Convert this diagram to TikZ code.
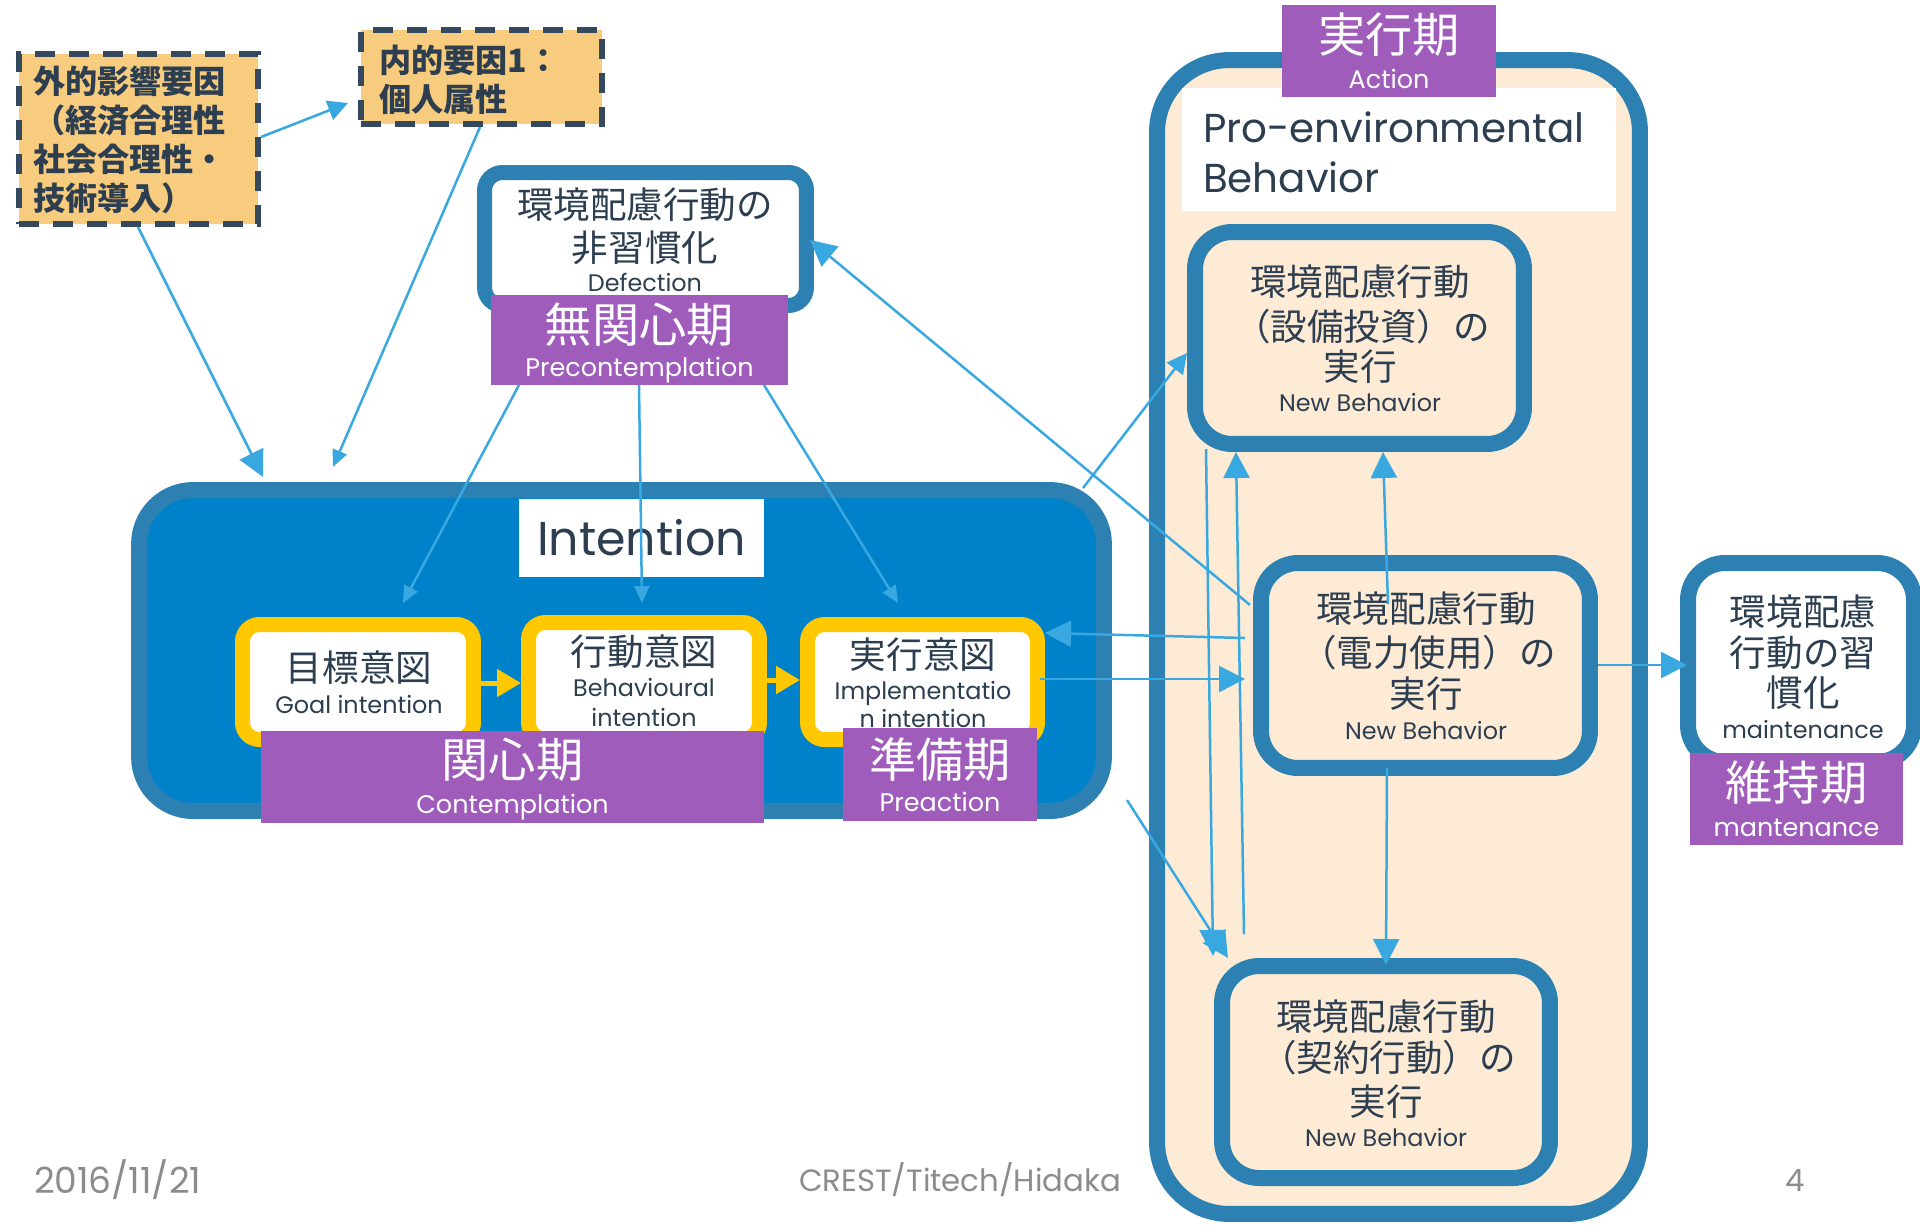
\documentclass[tikz,border=0pt]{standalone}
\usepackage{fontspec}
\setmainfont{Poppins}
\newfontfamily\jpfont{Noto Sans CJK JP}
\usetikzlibrary{arrows.meta}
\definecolor{sblue}{RGB}{44,128,178}
\definecolor{bblue}{RGB}{0,130,202}
\definecolor{peach}{RGB}{253,235,213}
\definecolor{purp}{RGB}{160,92,187}
\definecolor{yel}{RGB}{255,200,0}
\definecolor{lorange}{RGB}{248,204,126}
\definecolor{dslate}{RGB}{52,73,94}
\definecolor{txt}{RGB}{44,62,80}
\definecolor{ablue}{RGB}{58,168,224}
\definecolor{fgray}{RGB}{140,140,140}
\begin{document}
\begin{tikzpicture}[x=0.02cm,y=-0.02cm,
  every node/.style={inner sep=0,outer sep=0},
  dbox/.style={draw=dslate,fill=lorange,line width=0.12cm,dash pattern=on 0.4cm off 0.28cm},
  rbox/.style={draw=sblue,line width=0.32cm},
  ybox/.style={draw=yel,fill=white,line width=0.3cm,rounded corners=0.34cm,minimum width=4.62cm,minimum height=2.3cm},
  pbox/.style={fill=purp},
  jp/.style={font=\jpfont\fontsize{20.8}{24}\selectfont,text=txt,text height=17.3pt,text depth=1.5pt},
  jpb/.style={font=\jpfont\bfseries\fontsize{18.3}{22.2}\selectfont,text=txt,align=left},
  jpl/.style={font=\jpfont\fontsize{26.9}{30}\selectfont,text=white,text height=22.3pt,text depth=1.9pt},
  lat/.style={font=\fontsize{13.6}{16}\selectfont,text=txt,text height=9.5pt,text depth=0pt},
  latp/.style={font=\fontsize{14.5}{17}\selectfont,text=white,text height=10.2pt,text depth=0pt},
  foot/.style={font=\fontsize{17.5}{20}\selectfont,text=fgray,text height=12.3pt,text depth=0pt},
  arr/.style={draw=ablue,line width=0.05cm,-{Triangle[length=0.52cm,width=0.52cm]}},
  arrm/.style={draw=ablue,line width=0.05cm,-{Triangle[length=0.4cm,width=0.4cm]}},
  arrs/.style={draw=ablue,line width=0.05cm,-{Triangle[length=0.34cm,width=0.3cm]}},
  yarr/.style={draw=yel,line width=0.1cm,-{Triangle[length=0.48cm,width=0.54cm]}}]
\useasboundingbox (0,0) rectangle (1920,1225);
\fill[white] (0,0) rectangle (1920,1225);

% big containers
\node[rbox,fill=bblue,rounded corners=1.08cm,minimum width=19.3cm,minimum height=6.42cm] (intent) at (621.5,650.5) {};
\node[rbox,fill=peach,rounded corners=1.44cm,minimum width=9.66cm,minimum height=23.08cm] (action) at (1398.5,637) {};

% dashed boxes
\node[dbox,minimum width=4.78cm,minimum height=3.4cm] (ext) at (138.5,139) {};
\node[dbox,minimum width=4.82cm,minimum height=1.88cm] (int) at (481.5,77) {};
\node[jpb,anchor=west] (extT) at (33,140) {外的影響要因\\（経済合理性\\社会合理性・\\技術導入）};
\node[jpb,anchor=west] (intT) at (379,80) {内的要因1：\\個人属性};

% defection
\node[draw=sblue,line width=0.3cm,fill=white,rounded corners=0.36cm,minimum width=6.44cm,minimum height=2.66cm] (def) at (645.5,239) {};
\node[jp] (defT1) at (645,205) {環境配慮行動の};
\node[jp] (defT2) at (645,248) {非習慣化};
\node[lat] (defT3) at (645,283) {Defection};
\node[pbox,minimum width=5.94cm,minimum height=1.8cm] (pre) at (639.5,340) {};
\node[jpl] (preT1) at (639.5,325) {無関心期};
\node[latp] (preT2) at (639.5,368) {Precontemplation};

% intention contents
\node[fill=white,minimum width=4.9cm,minimum height=1.56cm] (intlbl) at (641.5,538) {};
\node[font=\fontsize{27}{32}\selectfont,text=txt,text height=18.9pt,text depth=0pt] (intlblT) at (641.5,539) {Intention};
\node[ybox] (goal) at (358,682) {};
\node[ybox,minimum height=2.34cm] (beh) at (644,681) {};
\node[ybox,minimum width=4.6cm] (impl) at (922.5,682) {};
\node[jp] (goalT1) at (359,668) {目標意図};
\node[lat] (goalT2) at (359,705) {Goal intention};
\node[jp] (behT1) at (644,652) {行動意図};
\node[lat] (behT2) at (644,688) {Behavioural};
\node[lat] (behT3) at (644,718) {intention};
\node[jp] (implT1) at (923,655) {実行意図};
\node[lat] (implT2) at (923,691) {Implementatio};
\node[lat] (implT3) at (923,719) {n intention};
\node[pbox,minimum width=10.06cm,minimum height=1.84cm] (con) at (512.5,777) {};
\node[jpl] (conT1) at (512.5,760) {関心期};
\node[latp] (conT2) at (512.5,805) {Contemplation};
\node[pbox,minimum width=3.88cm,minimum height=1.86cm] (prep) at (940,774.5) {};
\node[jpl] (prepT1) at (940,760) {準備期};
\node[latp] (prepT2) at (940,803) {Preaction};

% action contents
\node[fill=white,minimum width=8.68cm,minimum height=2.46cm] (peb) at (1399,149.5) {};
\node[font=\fontsize{23}{28}\selectfont,text=txt,anchor=base west] (pebT1) at (1203,142) {Pro-environmental};
\node[font=\fontsize{23}{28}\selectfont,text=txt,anchor=base west] (pebT2) at (1203,192) {Behavior};
\node[pbox,minimum width=4.28cm,minimum height=1.84cm] (act) at (1389,51) {};
\node[jpl] (actT1) at (1389,35) {実行期};
\node[latp] (actT2) at (1389,80) {Action};

\node[rbox,fill=peach,rounded corners=0.74cm,minimum width=6.58cm,minimum height=4.24cm] (equip) at (1359.5,338) {};
\node[jp] (eqT1) at (1360,282) {環境配慮行動};
\node[jp] (eqT2) at (1362,327) {（設備投資）の};
\node[jp] (eqT3) at (1360,367) {実行};
\node[lat] (eqT4) at (1360,403) {New Behavior};

\node[rbox,fill=peach,rounded corners=0.74cm,minimum width=6.58cm,minimum height=4.1cm] (power) at (1425.5,665.5) {};
\node[jp] (pwT1) at (1426,609) {環境配慮行動};
\node[jp] (pwT2) at (1428,653) {（電力使用）の};
\node[jp] (pwT3) at (1426,694) {実行};
\node[lat] (pwT4) at (1426,731) {New Behavior};

\node[rbox,fill=peach,rounded corners=0.74cm,minimum width=6.56cm,minimum height=4.24cm] (contract) at (1386,1072) {};
\node[jp] (ctT1) at (1386,1017) {環境配慮行動};
\node[jp] (ctT2) at (1388,1058) {（契約行動）の};
\node[jp] (ctT3) at (1386,1102) {実行};
\node[lat] (ctT4) at (1386,1138) {New Behavior};

% maintenance
\node[rbox,fill=white,rounded corners=0.74cm,minimum width=4.52cm,minimum height=3.98cm] (habit) at (1801,662.5) {};
\node[jp] (hbT1) at (1803,612) {環境配慮};
\node[jp] (hbT2) at (1803,653) {行動の習};
\node[jp] (hbT3) at (1803,693) {慣化};
\node[lat] (hbT4) at (1803,730) {maintenance};
\node[pbox,minimum width=4.26cm,minimum height=1.84cm] (mnt) at (1796.5,799) {};
\node[jpl] (mntT1) at (1796.5,783) {維持期};
\node[latp] (mntT2) at (1796.5,828) {mantenance};

% footer
\node[foot,font=\fontsize{20.5}{24}\selectfont,text height=14.4pt,anchor=west] (ftDate) at (34,1181) {2016/11/21};
\node[foot] (ftMid) at (960,1181) {CREST/Titech/Hidaka};
\node[foot] (ftNum) at (1795,1181) {4};

% connector end points
\coordinate (c1s) at (261,137);  \coordinate (c1e) at (348,103);
\coordinate (c2s) at (138,227);  \coordinate (c2e) at (263,477);
\coordinate (c3s) at (480,127);  \coordinate (c3e) at (333,467);
\coordinate (c4s) at (519,385);  \coordinate (c4e) at (403,603);
\coordinate (c5s) at (639,385);  \coordinate (c5e) at (642,603);
\coordinate (c6s) at (764,385);  \coordinate (c6e) at (898,603);
\coordinate (c7s) at (1250,605); \coordinate (c7e) at (810,240);
\coordinate (c8s) at (1083,488); \coordinate (c8e) at (1187,353);
\coordinate (c9s) at (1245,638); \coordinate (c9e) at (1045,633);
\coordinate (c10s) at (1040,679); \coordinate (c10e) at (1245,679);
\coordinate (c11s) at (1127,800); \coordinate (c11e) at (1228,958);
\coordinate (c12s) at (1206,449); \coordinate (c12e) at (1213,956);
\coordinate (c13s) at (1244,934); \coordinate (c13e) at (1236,452);
\coordinate (c14s) at (1388,604); \coordinate (c14e) at (1383,452);
\coordinate (c15s) at (1387,768); \coordinate (c15e) at (1386,965);
\coordinate (c16s) at (1598,665); \coordinate (c16e) at (1687,665);
\coordinate (y1s) at (481,683); \coordinate (y1e) at (521,683);
\coordinate (y2s) at (767,680); \coordinate (y2e) at (800,680);

\draw[yarr] (y1s) -- (y1e);
\draw[yarr] (y2s) -- (y2e);
\draw[arrm] (c1s) -- (c1e);
\draw[arr] (c2s) -- (c2e);
\draw[arrs] (c3s) -- (c3e);
\draw[arrs] (c4s) -- (c4e);
\draw[arrs] (c5s) -- (c5e);
\draw[arrs] (c6s) -- (c6e);
\draw[arr] (c7s) -- (c7e);
\draw[arrm] (c8s) -- (c8e);
\draw[arr] (c9s) -- (c9e);
\draw[arr] (c10s) -- (c10e);
\draw[arr] (c11s) -- (c11e);
\draw[arr] (c12s) -- (c12e);
\draw[arr] (c13s) -- (c13e);
\draw[arr] (c14s) -- (c14e);
\draw[arr] (c15s) -- (c15e);
\draw[arr] (c16s) -- (c16e);
\end{tikzpicture}
\end{document}
